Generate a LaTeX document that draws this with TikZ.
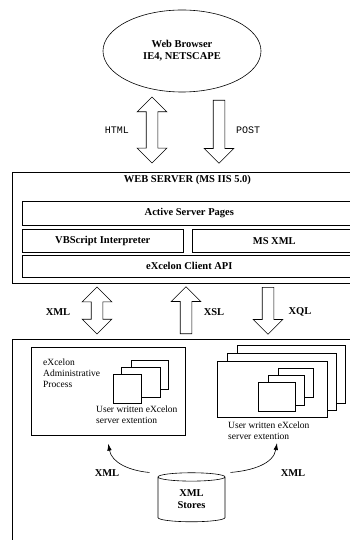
\documentclass[tikz,border=0pt]{standalone}
\usepackage{fontspec}
\setmainfont{Liberation Serif}
\setmonofont{Liberation Mono}
\usetikzlibrary{
    shapes.geometric,
    shapes.arrows,
    arrows.meta,
    positioning,
    calc
}
\tikzset{
    layerbox/.style={draw, anchor=north west, inner sep=0pt, line width=0.6pt},
    fatarrow/.style={draw, single arrow, inner xsep=0pt, inner ysep=5.5pt,
        single arrow head extend=9pt, single arrow tip angle=90, line width=0.6pt},
    fatboth/.style={draw, double arrow, inner xsep=0pt, inner ysep=5.5pt,
        double arrow head extend=9pt, double arrow tip angle=90, line width=0.6pt},
    win/.style={draw, fill=white, line width=0.6pt},
    tag/.style={font=\bfseries\fontsize{10.5}{12}\selectfont, inner sep=0pt},
    mono/.style={font=\ttfamily\fontsize{10}{12}\selectfont, inner sep=0pt},
    note/.style={font=\fontsize{9.5}{11}\selectfont, align=left, anchor=north west, inner sep=0pt},
    feed/.style={-{Latex[length=7pt,width=4.5pt]}, line width=0.6pt}
}

\begin{document}
\begin{tikzpicture}[x=1pt, y=1pt]
    \useasboundingbox (0, 0) rectangle (350, -540);
    \clip (0, 0) rectangle (350, -540);

    \node[draw, ellipse, tag, align=center, line width=0.6pt,
        minimum width=158pt, minimum height=82pt] (browser) at (182, -51) {Web Browser\\IE4, NETSCAPE};

    \node[fatboth, minimum height=66pt, rotate=90] (html) at (152, -130) {};
    \node[fatarrow, minimum height=63pt, rotate=-90, anchor=tail] (post) at (219, -100) {};
    \node[mono] (htmltag) at (117, -130) {HTML};
    \node[mono] (posttag) at (248, -130) {POST};

    % web server
    \node[layerbox, line width=0.8pt, minimum width=350pt, minimum height=111pt] (server) at (12, -172) {};
    \node[tag, anchor=north] (servertitle) at ([yshift=-3.5pt]server.north) {WEB SERVER (MS IIS 5.0)};
    \node[layerbox, tag, minimum width=334pt, minimum height=24pt] (asp) at (22, -201) {Active Server Pages};
    \node[layerbox, tag, minimum width=161pt, minimum height=23pt] (vbs) at (22, -229) {VBScript Interpreter};
    \node[layerbox, tag, minimum width=164pt, minimum height=23pt] (msxml) at (192, -229) {MS XML};
    \node[layerbox, tag, minimum width=334pt, minimum height=22pt] (api) at (22, -255) {eXcelon Client API};

    \node[fatboth, minimum height=47pt, rotate=90] (xmlio) at (97, -310.5) {};
    \node[fatarrow, minimum height=47pt, rotate=90, anchor=tail] (xsl) at (186, -334) {};
    \node[fatarrow, minimum height=47pt, rotate=-90, anchor=tail] (xql) at (268, -287) {};
    \node[tag] (xmltag) at (58, -312) {XML};
    \node[tag] (xsltag) at (214, -312) {XSL};
    \node[tag] (xqltag) at (300, -312) {XQL};

    % eXcelon server
    \node[layerbox, line width=0.8pt, minimum width=350pt, minimum height=220pt] (client) at (12, -339) {};
    \node[layerbox, minimum width=154pt, minimum height=88pt] (admin) at (31, -347) {};
    \node[note] (admintext) at (43, -358.5) {eXcelon\\Administrative\\Process};
    \draw[win] (131, -360) rectangle (168, -389);
    \draw[win] (121, -367) rectangle (160, -397);
    \draw[win] (113, -374) rectangle (141, -403);
    \node[note] (lefttext) at (96, -406) {User written eXcelon\\server extention};

    \draw[win] (237, -345) rectangle (345, -403);
    \draw[win] (227, -353) rectangle (336, -410);
    \draw[win] (217, -361) rectangle (327, -417);
    \draw[win] (278, -368) rectangle (313, -397);
    \draw[win] (268, -375) rectangle (304, -405);
    \draw[win] (258, -382) rectangle (295, -411);
    \node[note] (righttext) at (228, -421.5) {User written eXcelon\\server extention};

    \node[draw, cylinder, shape border rotate=90, aspect=0.3, tag, align=center, line width=0.6pt,
        minimum width=67pt, minimum height=49pt] (stores) at (191.5, -499.5) {XML\\Stores};
    \coordinate (farin) at (277, -443);
    \draw[feed] ($(stores.north)+(-42pt, 0)$) to[out=175, in=-80] ([yshift=-8pt]admin.south);
    \draw[feed] ($(stores.north)+(39pt, 0)$) to[out=5, in=-100] (farin);
    \node[tag] (xmlleft) at (107, -473) {XML};
    \node[tag] (xmlright) at (293, -473) {XML};
\end{tikzpicture}
\end{document}
